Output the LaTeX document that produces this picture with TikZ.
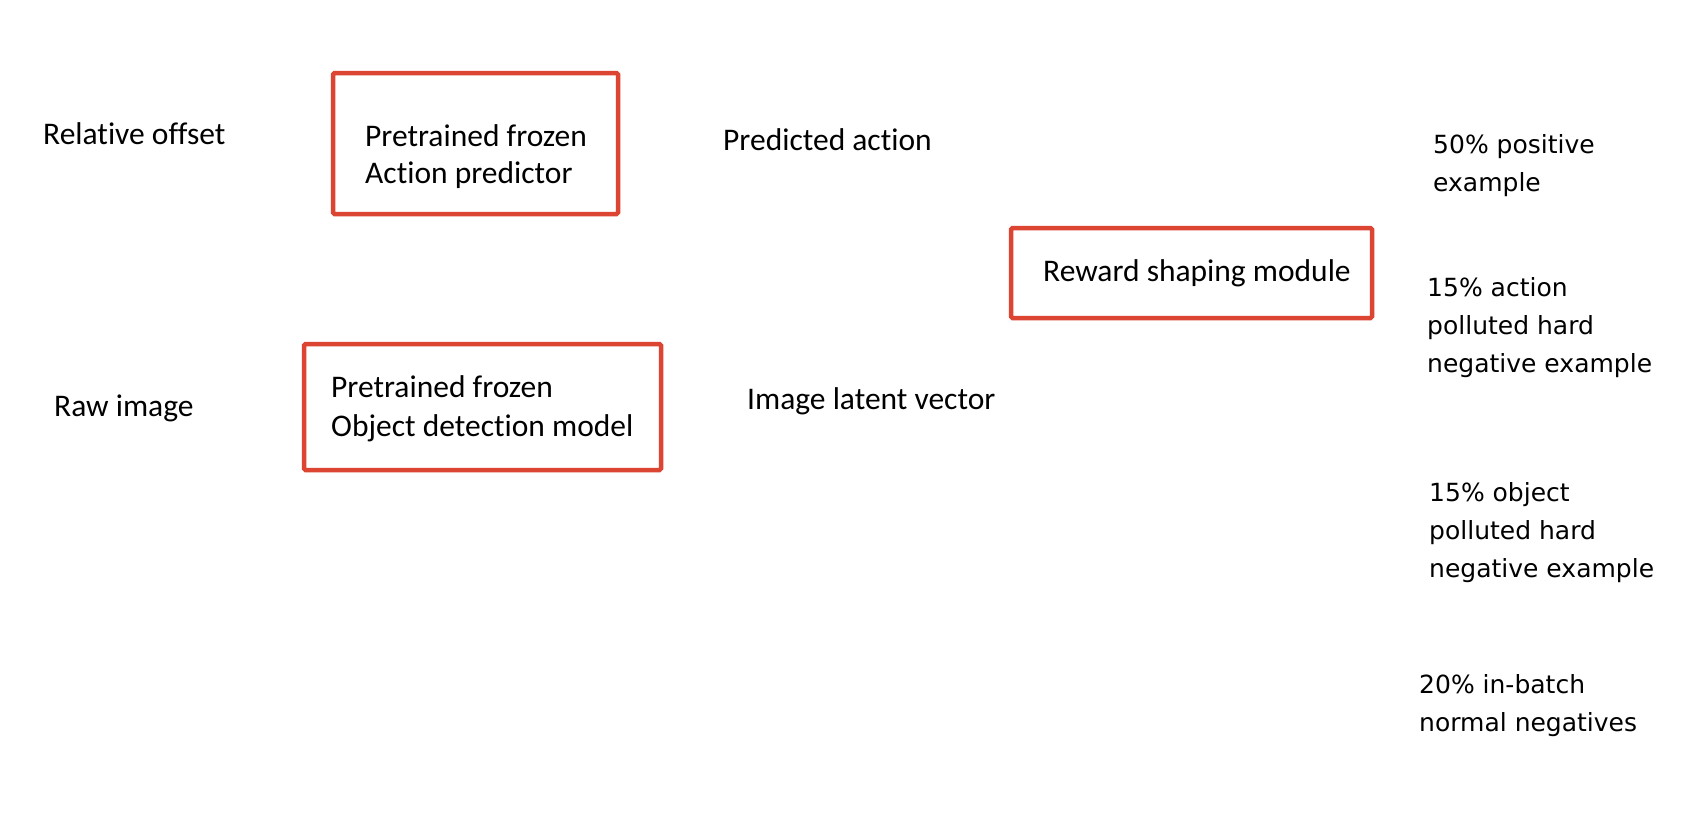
\documentclass[tikz,border=0pt]{standalone}
\usepackage{fontspec}
\newfontfamily\calfont[Ligatures={NoCommon,NoRequired,NoContextual}]{Carlito}
\newfontfamily\dvfont{DejaVu Sans}
\definecolor{boxred}{HTML}{DB4532}
\tikzset{
  redbox/.style={draw=boxred, line width=4.5pt, rounded corners=1.5pt, inner sep=0pt},
  lbl/.style={font=\calfont\fontsize{31.5}{38}\selectfont, anchor=base west, inner sep=0pt},
  rlbl/.style={font=\dvfont\fontsize{25}{30}\selectfont, anchor=base west, inner sep=0pt}
}
\begin{document}
\begin{tikzpicture}[x=1pt,y=-1pt]
\useasboundingbox[fill=white] (0,0) rectangle (1694,820);
% boxes
\node[redbox, minimum width=285, minimum height=141] (apbox) at (475.5,143.5) {};
\node[redbox, minimum width=357, minimum height=126] (odbox) at (482.5,407) {};
\node[redbox, minimum width=361, minimum height=90] (rsbox) at (1191.5,273) {};
% left labels
\node[lbl] (relofs) at (43,144) {Relative offset};
\node[lbl] (rawimg) at (54,416) {Raw image};
% box texts
\node[lbl] (ap1) at (365,146) {Pretrained frozen};
\node[lbl] (ap2) at (365,183) {Action predictor};
\node[lbl] (od1) at (331,397) {Pretrained frozen};
\node[lbl] (od2) at (331,436) {Object detection model};
\node[lbl] (rs1) at (1043,281) {Reward shaping module};
% middle labels
\node[lbl] (predact) at (723,150) {Predicted action};
\node[lbl] (imglat) at (747,409) {Image latent vector};
% right labels
\node[rlbl] (p1) at (1433,153) {50\% positive};
\node[rlbl] (p2) at (1433,191) {example};
\node[rlbl] (a1) at (1427,296) {15\% action};
\node[rlbl] (a2) at (1427,334) {polluted hard};
\node[rlbl] (a3) at (1427,372) {negative example};
\node[rlbl] (o1) at (1429,501) {15\% object};
\node[rlbl] (o2) at (1429,539) {polluted hard};
\node[rlbl] (o3) at (1429,577) {negative example};
\node[rlbl] (n1) at (1419,693) {20\% in-batch};
\node[rlbl] (n2) at (1419,731) {normal negatives};
\end{tikzpicture}
\end{document}
